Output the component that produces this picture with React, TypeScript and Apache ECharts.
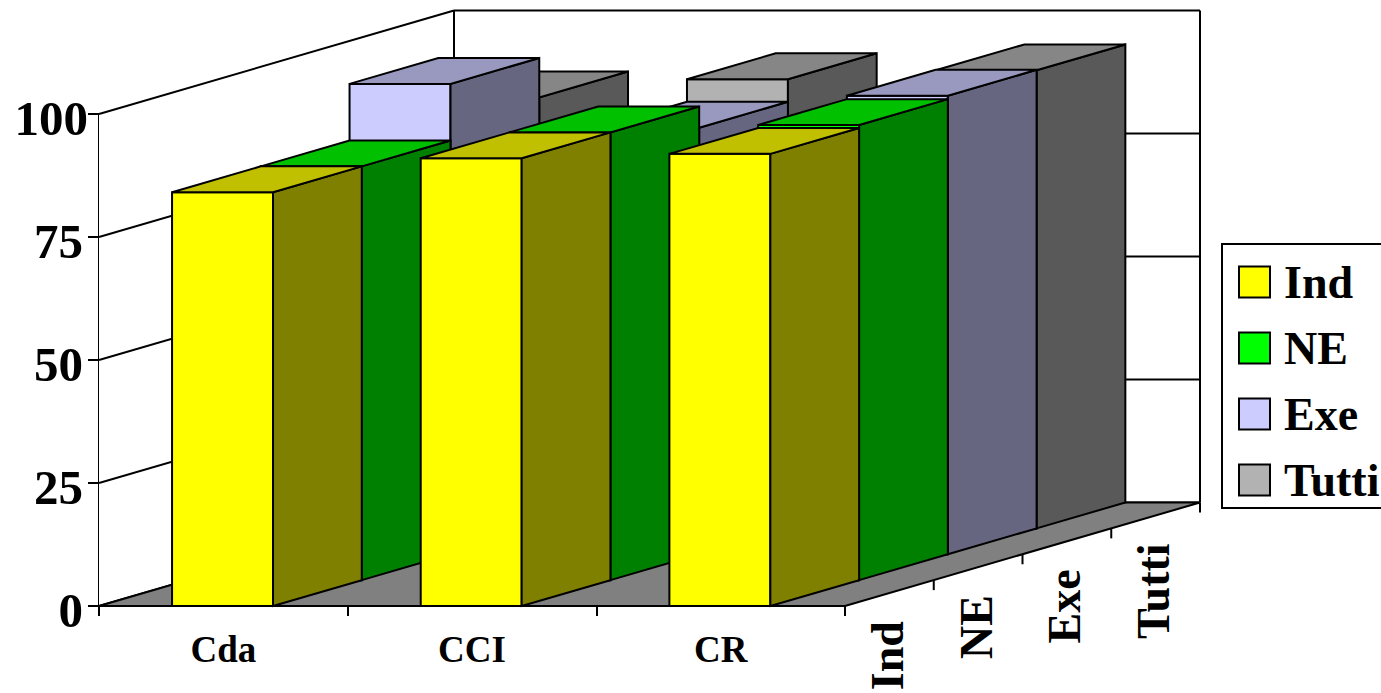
import React, { useEffect, useRef } from "react";
import * as echarts from "echarts";

const categories = ["Cda", "CCI", "CR"];
const seriesNames = ["Ind", "NE", "Exe", "Tutti"];
const yTicks = [0, 25, 50, 75, 100];
const indValues = [84.1, 91, 91.9];
const neValues = [84.1, 91, 92.5];
const exeValues = [95.6, 86.7, 93.2];
const tuttiValues = [87.6, 91.3, 93.1];

const frontColors = ["#FFFF00", "#00FF00", "#CCCCFF", "#B2B2B2"];
const sideColors = ["#808000", "#008000", "#666680", "#595959"];
const topColors = ["#C0C000", "#00C000", "#9999C0", "#868686"];

const DEPTH_X = 355;
const DEPTH_Y = -103.5;
const BAR_RATIO = 0.406;
const BAR_SHIFT = -0.8;
const FONT = "'Liberation Serif', 'Times New Roman', serif";
const STROKE = { stroke: "#000", lineWidth: 2, lineJoin: "miter" as const };

function poly(points: number[][], fill: string) {
  return { type: "polygon", shape: { points }, style: { fill, ...STROKE } };
}
function seg(x1: number, y1: number, x2: number, y2: number, width = 2) {
  return {
    type: "line",
    shape: { x1, y1, x2, y2 },
    style: { stroke: "#000", lineWidth: width, fill: "none" },
  };
}

function barSeries(name: string, values: number[], depthIndex: number) {
  const total = seriesNames.length;
  const stepX = DEPTH_X / total;
  const stepY = DEPTH_Y / total;
  return {
    type: "custom",
    name,
    coordinateSystem: "cartesian2d",
    clip: false,
    silent: true,
    itemStyle: { color: frontColors[depthIndex] },
    data: values.map((v, i) => [i, v]),
    encode: { x: 0, y: 1 },
    renderItem: (_p: any, api: any) => {
      const cat = api.value(0);
      const val = api.value(1);
      const base = api.coord([cat, 0]);
      const top = api.coord([cat, val]);
      const w = api.size([1, 0])[0] * BAR_RATIO;
      const x0 = base[0] - w / 2 + BAR_SHIFT + depthIndex * stepX;
      const x1 = x0 + w;
      const yb = base[1] + depthIndex * stepY;
      const yt = top[1] + depthIndex * stepY;
      return {
        type: "group",
        children: [
          poly([[x0, yb], [x1, yb], [x1, yt], [x0, yt]], frontColors[depthIndex]),
          poly([[x1, yb], [x1 + stepX, yb + stepY], [x1 + stepX, yt + stepY], [x1, yt]], sideColors[depthIndex]),
          poly([[x0, yt], [x1, yt], [x1 + stepX, yt + stepY], [x0 + stepX, yt + stepY]], topColors[depthIndex]),
        ],
      };
    },
  };
}

const wallSeries = {
  type: "custom",
  name: "walls",
  coordinateSystem: "cartesian2d",
  clip: false,
  silent: true,
  data: [[0]],
  renderItem: (params: any, api: any) => {
    const cs = params.coordSys;
    const l = cs.x;
    const r = cs.x + cs.width;
    const b = cs.y + cs.height;
    const t = cs.y;
    const bx = l + DEPTH_X;
    const rx = r + DEPTH_X;
    const children: any[] = [
      { type: "polygon", shape: { points: [[l, b], [l, t], [bx, t + DEPTH_Y], [bx, b + DEPTH_Y]] }, style: { fill: "#fff" } },
      { type: "polygon", shape: { points: [[bx, t + DEPTH_Y], [rx, t + DEPTH_Y], [rx, b + DEPTH_Y], [bx, b + DEPTH_Y]] }, style: { fill: "#fff" } },
      seg(bx, t + DEPTH_Y, bx, b + DEPTH_Y),
      seg(rx, t + DEPTH_Y, rx, b + DEPTH_Y),
    ];
    yTicks.forEach((v) => {
      const y = api.coord([0, v])[1];
      children.push(seg(l, y, bx, y + DEPTH_Y));
      children.push(seg(bx, y + DEPTH_Y, rx, y + DEPTH_Y));
    });
    children.push(poly([[l, b], [r, b], [rx, b + DEPTH_Y], [bx, b + DEPTH_Y]], "#808080"));
    return { type: "group", children };
  },
};

const depthAxisSeries = {
  type: "custom",
  name: "depthAxis",
  coordinateSystem: "cartesian2d",
  clip: false,
  silent: true,
  data: seriesNames.map((_n, i) => [i]),
  renderItem: (params: any, api: any) => {
    const cs = params.coordSys;
    const r = cs.x + cs.width;
    const b = cs.y + cs.height;
    const n = seriesNames.length;
    const i = api.value(0);
    const stepX = DEPTH_X / n;
    const stepY = DEPTH_Y / n;
    const children: any[] = [];
    children.push(seg(r + (i + 1) * stepX, b + (i + 1) * stepY, r + (i + 1) * stepX, b + (i + 1) * stepY + 10));
    if (i === 0) children.push(seg(r, b, r, b + 10));
    children.push({
      type: "text",
      x: r + (i + 0.5) * stepX - 2,
      y: b + (i + 0.5) * stepY + 28,
      rotation: Math.PI / 2,
      style: {
        text: seriesNames[i],
        font: `bold 46px ${FONT}`,
        fill: "#000",
        align: "right",
        verticalAlign: "middle",
      },
    });
    return { type: "group", children };
  },
};

export default function App() {
  const ref = useRef<HTMLDivElement>(null);
  useEffect(() => {
    const chart = echarts.init(ref.current!, undefined, { renderer: "svg" });
    const yLabel = { color: "#000", fontFamily: FONT, fontWeight: "bold" as const, fontSize: 49 };
    chart.setOption({
      animation: false,
      backgroundColor: "#fff",
      grid: { left: 99, top: 114, width: 746, height: 492, containLabel: false },
      xAxis: {
        type: "category",
        data: categories,
        axisLine: { show: true, onZero: false, lineStyle: { color: "#000", width: 2 } },
        axisTick: { show: true, length: 10, alignWithLabel: false, lineStyle: { color: "#000", width: 2 } },
        axisLabel: { margin: 25, color: "#000", fontFamily: FONT, fontWeight: "bold", fontSize: 37 },
        splitLine: { show: false },
      },
      yAxis: {
        type: "value",
        min: 0,
        max: 100,
        interval: 25,
        axisLine: { show: true, lineStyle: { color: "#000", width: 2 } },
        axisTick: { show: true, length: 11, lineStyle: { color: "#000", width: 2 } },
        axisLabel: {
          margin: 11,
          ...yLabel,
          formatter: (v: number) => (v === 100 ? `{h|${v}}` : `{n|${v}}`),
          rich: {
            h: { ...yLabel, padding: [8, 0, 0, 0] },
            n: { ...yLabel, padding: [8, 5, 0, 0] },
          },
        },
        splitLine: { show: false },
      },
      legend: {
        data: seriesNames,
        orient: "vertical",
        left: 1222,
        top: 244,
        icon: "rect",
        itemWidth: 31,
        itemHeight: 31,
        itemGap: 20,
        padding: [15, 30, 5, 16],
        borderColor: "#000",
        borderWidth: 2,
        backgroundColor: "#fff",
        selectedMode: false,
        itemStyle: { borderColor: "#000", borderWidth: 2 },
        textStyle: { color: "#000", fontFamily: FONT, fontWeight: "bold", fontSize: 46, lineHeight: 31, padding: [2, 0, 0, 9] },
      },
      series: [
        wallSeries,
        barSeries("Tutti", tuttiValues, 3),
        barSeries("Exe", exeValues, 2),
        barSeries("NE", neValues, 1),
        barSeries("Ind", indValues, 0),
        depthAxisSeries,
      ],
    });
    return () => chart.dispose();
  }, []);
  return <div ref={ref} style={{ position: "fixed", left: 0, top: 0, width: 1381, height: 693 }} />;
}
